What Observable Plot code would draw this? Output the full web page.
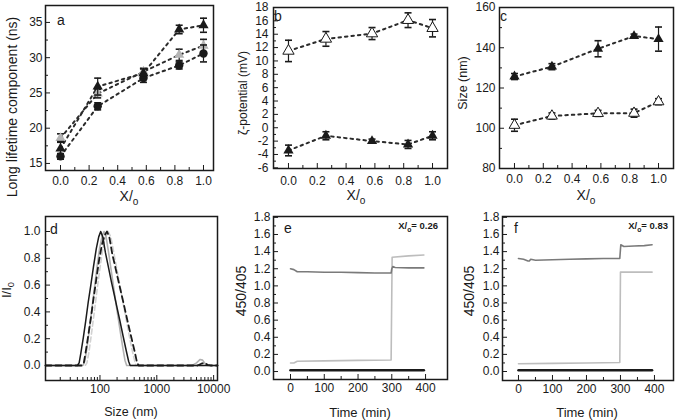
<!DOCTYPE html>
<html><head><meta charset="utf-8">
<script src="https://cdn.jsdelivr.net/npm/d3@7"></script>
<script src="https://cdn.jsdelivr.net/npm/@observablehq/plot@0.6"></script>
<style>
body{margin:0;background:#fff;}
#fig{position:relative;width:675px;height:420px;overflow:hidden;background:#fff;}
#fig svg{position:absolute;}
</style></head><body><div id="fig"></div>
<script>
const FONT = '"Liberation Sans", Arial, sans-serif';

// ---------- data ----------
const xFrac = [0, 0.26, 0.58, 0.83, 1.0];
const fracTicks = [0, 0.2, 0.4, 0.6, 0.8, 1.0];
const fracMinor = [0.1, 0.3, 0.5, 0.7, 0.9];

// panel a: long lifetime component (ns)
const aTriangle = [17.1, 25.9, 27.8, 34.0, 34.6];
const aTriangleErr = [1.0, 1.2, 0.6, 0.6, 1.0];
const aCircle = [16.0, 23.1, 27.1, 28.9, 30.6];
const aCircleErr = [0.4, 0.5, 0.6, 0.5, 1.2];
const aGray = [18.6, 24.9, 28.0, 30.4, 31.7];
const aGrayErr = [0.6, 0.6, 0.5, 0.8, 0.9];
const aYTicks = [15, 20, 25, 30, 35];
const aYMinor = [17.5, 22.5, 27.5, 32.5];

// panel b: zeta potential (mV)
const bOpen = [11.5, 13.3, 14.1, 16.1, 14.9];
const bOpenErr = [1.6, 1.1, 0.9, 1.1, 1.3];
const bFilled = [-3.4, -1.2, -2.0, -2.5, -1.2];
const bFilledErr = [0.8, 0.6, 0.3, 0.6, 0.6];
const bYTicks = [-6, -4, -2, 0, 2, 4, 6, 8, 10, 12, 14, 16, 18];
const bYMinor = [-5, -3, -1, 1, 3, 5, 7, 9, 11, 13, 15, 17];

// panel c: size (nm)
const cFilled = [125.7, 130.6, 139.5, 145.8, 144.3];
const cFilledErr = [1.5, 1.5, 4.0, 1.0, 6.0];
const cOpen = [101.5, 106.1, 107.4, 107.5, 113.2];
const cOpenErr = [3.0, 1.5, 1.5, 2.0, 1.5];
const cYTicks = [80, 100, 120, 140, 160];
const cYMinor = [90, 110, 130, 150];

// panel d: size distributions [size nm, I/I0]
const dBlackSolid = [[11,0],[40,0],[43,0.02],[46,0.09],[51,0.21],[56,0.33],[62,0.47],[69,0.6],[77,0.74],[86,0.87],[95,0.96],[103,1.0],[112,0.96],[125,0.84],[140,0.74],[158,0.63],[178,0.53],[200,0.43],[225,0.33],[255,0.22],[290,0.11],[320,0.03],[340,0],[11700,0]];
const dBlackDashed = [[11,0],[48,0],[52,0.02],[57,0.12],[63,0.24],[70,0.37],[77,0.5],[86,0.64],[96,0.78],[108,0.9],[120,0.97],[133,1.0],[146,0.96],[165,0.83],[185,0.74],[210,0.635],[235,0.545],[263,0.455],[295,0.36],[330,0.27],[370,0.18],[415,0.09],[450,0.02],[480,0],[5200,0],[6200,0.015],[7000,0.02],[7800,0.005],[8800,0],[11700,0]];
const dGraySolid = [[11,0],[50,0],[54,0.03],[59,0.13],[65,0.27],[72,0.42],[80,0.58],[89,0.74],[99,0.88],[110,0.97],[118,1.0],[127,0.97],[140,0.86],[155,0.73],[172,0.6],[190,0.47],[210,0.35],[232,0.23],[255,0.12],[275,0.04],[295,0],[4200,0],[5000,0.02],[5800,0.045],[6400,0.04],[7200,0.01],[8000,0],[11700,0]];
const dLightDashed = [[11,0],[55,0],[59,0.02],[64,0.1],[71,0.24],[79,0.39],[88,0.55],[98,0.7],[110,0.85],[123,0.95],[140,1.0],[155,0.96],[172,0.86],[192,0.75],[215,0.64],[240,0.53],[268,0.42],[300,0.31],[335,0.2],[375,0.1],[410,0.03],[430,0],[11700,0]];
const dXTicks = [100, 1000, 10000];
const dXMinor = [20,30,40,50,60,70,80,90,200,300,400,500,600,700,800,900,2000,3000,4000,5000,6000,7000,8000,9000];
const dYTicks = [0, 0.2, 0.4, 0.6, 0.8, 1.0];
const dYMinor = [0.1, 0.3, 0.5, 0.7, 0.9];

// panel e: 450/405 vs time (min), X/Xo = 0.26
const eDark = [[0,1.20],[10,1.19],[20,1.165],[50,1.165],[100,1.16],[150,1.16],[200,1.155],[250,1.15],[298,1.15],[300,1.2],[303,1.225],[310,1.215],[350,1.21],[395,1.21]];
const eLight = [[0,0.10],[10,0.10],[20,0.12],[100,0.125],[200,0.13],[298,0.135],[301,1.335],[350,1.35],[395,1.36]];
const eBlack = [[0,0.015],[395,0.015]];
// panel f: X/Xo = 0.83
const fDark = [[0,1.32],[15,1.31],[28,1.29],[32,1.29],[36,1.31],[50,1.30],[100,1.305],[150,1.31],[200,1.315],[250,1.32],[298,1.32],[301,1.48],[310,1.46],[340,1.465],[370,1.47],[393,1.48]];
const fLight = [[0,0.09],[100,0.095],[200,0.1],[298,0.105],[300,1.16],[393,1.16]];
const fBlack = [[0,0.015],[393,0.015]];
const tXTicks = [0, 100, 200, 300, 400];
const tXMinor = [50, 150, 250, 350];
const tYTicks = [0, 0.2, 0.4, 0.6, 0.8, 1.0, 1.2, 1.4, 1.6, 1.8];
const tYMinor = [0.1, 0.3, 0.5, 0.7, 0.9, 1.1, 1.3, 1.5, 1.7];

// ---------- helpers ----------
const fig = document.getElementById("fig");
const CAP = {draw(ctx, size) { const r = Math.sqrt(size / Math.PI); ctx.moveTo(-r, 0); ctx.lineTo(r, 0); }};
const rows = (ys, es) => xFrac.map((x, i) => ({x, y: ys[i], e: es[i]}));
const INK = "#1a1a1a";

function dotted(data) {
  return Plot.line(data, {x: "x", y: "y", stroke: "#2b2b2b", strokeWidth: 2, strokeDasharray: "2.5,4"});
}
function errBars(data) {
  return [
    Plot.ruleX(data, {x: "x", y1: d => d.y - d.e, y2: d => d.y + d.e, stroke: INK, strokeWidth: 1.2}),
    Plot.dot(data, {x: "x", y: d => d.y + d.e, symbol: CAP, r: 3.5, stroke: INK, strokeWidth: 1.6}),
    Plot.dot(data, {x: "x", y: d => d.y - d.e, symbol: CAP, r: 3.5, stroke: INK, strokeWidth: 1.6})
  ];
}
function tri(data, fill, stroke = "none", r = 3.8) {
  return Plot.dot(data, {x: "x", y: "y", symbol: "triangle", r, fill, stroke, strokeWidth: 1});
}
function addText(svg, {x, y, parts, size = 13, rotate = 0, anchor = "middle", weight = "normal", center = true}) {
  const t = d3.select(svg).append("text")
    .attr("transform", `translate(${x},${y}) rotate(${rotate})`)
    .attr("y", center ? 0.35 * size : 0)
    .attr("text-anchor", anchor).attr("font-size", size).attr("font-weight", weight)
    .attr("fill", INK).attr("font-family", FONT);
  let sub = false;
  for (const p of parts) {
    const ts = t.append("tspan").text(p.t);
    if (p.sub && !sub) { ts.attr("dy", 0.3 * size).attr("font-size", 0.72 * size); sub = true; }
    else if (p.sub) { ts.attr("font-size", 0.72 * size); }
    else if (sub) { ts.attr("dy", -0.3 * size); sub = false; }
  }
}

function panel(cfg) {
  const {left, top, width = 225, height = 210, m, x, y, marks, xt, xm, yt, ym, xfmt, yfmt, xpad, ypad, texts, overflow = "hidden"} = cfg;
  const fw = width - m[1] - m[3];
  const fh = height - m[0] - m[2];
  const svg = Plot.plot({
    width, height,
    marginTop: m[0], marginRight: m[1], marginBottom: m[2], marginLeft: m[3],
    x, y,
    style: {fontFamily: FONT, fontSize: "12px", background: "transparent", overflow, color: INK},
    marks: [
      ...marks,
      Plot.tickX(xm, {x: d => d, insetTop: fh - 3, stroke: INK, strokeWidth: 1}),
      Plot.tickX(xt, {x: d => d, insetTop: fh - 5, stroke: INK, strokeWidth: 1}),
      Plot.tickY(ym, {y: d => d, insetRight: fw - 3, stroke: INK, strokeWidth: 1}),
      Plot.tickY(yt, {y: d => d, insetRight: fw - 5, stroke: INK, strokeWidth: 1}),
      Plot.axisX({ticks: xt, tickSize: 0, tickPadding: xpad, tickFormat: xfmt, label: null, fill: INK}),
      Plot.axisY({ticks: yt, tickSize: 0, tickPadding: ypad, tickFormat: yfmt, label: null, fill: INK}),
      Plot.frame({stroke: INK, strokeWidth: 1.5})
    ]
  });
  svg.style.left = left + "px";
  svg.style.top = top + "px";
  for (const t of texts) addText(svg, t);
  fig.appendChild(svg);
}
const f1 = d3.format(".1f");
const str = d => String(d);
const Xo = [{t: "X/"}, {t: "o", sub: true}];

// ---------- panel a ----------
panel({
  left: 0, top: 0, m: [5, 12, 40, 45],
  x: {domain: [-0.105, 1.07]}, y: {domain: [14.0, 37.4]},
  xt: fracTicks, xm: fracMinor, yt: aYTicks, ym: aYMinor, xfmt: f1, yfmt: str, xpad: 6, ypad: 3,
  marks: [
    dotted(rows(aGray, aGrayErr)), dotted(rows(aCircle, aCircleErr)), dotted(rows(aTriangle, aTriangleErr)),
    ...errBars(rows(aGray, aGrayErr)), tri(rows(aGray, aGrayErr), "#b4b4b4"),
    ...errBars(rows(aCircle, aCircleErr)),
    Plot.dot(rows(aCircle, aCircleErr), {x: "x", y: "y", r: 4.2, fill: INK}),
    ...errBars(rows(aTriangle, aTriangleErr)), tri(rows(aTriangle, aTriangleErr), INK)
  ],
  texts: [
    {x: 12, y: 107, parts: [{t: "Long lifetime component (ns)"}], size: 14, rotate: -90},
    {x: 129, y: 196, parts: Xo, size: 14},
    {x: 57, y: 25, parts: [{t: "a"}], size: 14, anchor: "start", center: false}
  ]
});

// ---------- panel b ----------
panel({
  left: 225, top: 0, m: [7, 3, 42, 48],
  x: {domain: [-0.104, 1.104]}, y: {domain: [-6.1, 18]},
  xt: fracTicks, xm: fracMinor, yt: bYTicks, ym: bYMinor, xfmt: f1, yfmt: str, xpad: 8, ypad: 5,
  marks: [
    dotted(rows(bOpen, bOpenErr)), dotted(rows(bFilled, bFilledErr)),
    ...errBars(rows(bOpen, bOpenErr)), tri(rows(bOpen, bOpenErr), "white", INK, 4.2),
    ...errBars(rows(bFilled, bFilledErr)), tri(rows(bFilled, bFilledErr), INK)
  ],
  texts: [
    {x: 18, y: 93, parts: [{t: "ζ-potential (mV)"}], size: 12, rotate: -90},
    {x: 131, y: 195, parts: Xo, size: 14},
    {x: 49, y: 21, parts: [{t: "b"}], size: 14, anchor: "start", center: false}
  ]
});

// ---------- panel c ----------
panel({
  left: 450, top: 0, m: [7, 2, 42, 49],
  x: {domain: [-0.104, 1.104]}, y: {domain: [80, 160]},
  xt: fracTicks, xm: fracMinor, yt: cYTicks, ym: cYMinor, xfmt: f1, yfmt: str, xpad: 6, ypad: 4,
  marks: [
    dotted(rows(cFilled, cFilledErr)), dotted(rows(cOpen, cOpenErr)),
    ...errBars(rows(cOpen, cOpenErr)), tri(rows(cOpen, cOpenErr), "white", INK, 4.0),
    ...errBars(rows(cFilled, cFilledErr)), tri(rows(cFilled, cFilledErr), INK)
  ],
  texts: [
    {x: 13, y: 83, parts: [{t: "Size (nm)"}], size: 12.5, rotate: -90},
    {x: 136, y: 195, parts: Xo, size: 14},
    {x: 50, y: 21, parts: [{t: "c"}], size: 14, anchor: "start", center: false}
  ]
});

// ---------- panel d ----------
const pts = a => a.map(([s, v]) => ({s, v}));
panel({
  left: 0, top: 210, m: [6, 8, 40, 45], overflow: "visible",
  x: {type: "log", domain: [11, 11700]}, y: {domain: [-0.112, 1.112]},
  xt: dXTicks, xm: dXMinor, yt: dYTicks, ym: dYMinor, xfmt: str, yfmt: f1, xpad: 4, ypad: 5,
  marks: [
    Plot.line(pts(dLightDashed), {x: "s", y: "v", stroke: "#d2d2d2", strokeWidth: 1.6, strokeDasharray: "5,3"}),
    Plot.line(pts(dGraySolid), {x: "s", y: "v", stroke: "#b2b2b2", strokeWidth: 1.6}),
    Plot.line(pts(dBlackDashed), {x: "s", y: "v", stroke: INK, strokeWidth: 1.8, strokeDasharray: "6,4"}),
    Plot.line(pts(dBlackSolid), {x: "s", y: "v", stroke: INK, strokeWidth: 1.5})
  ],
  texts: [
    {x: 6, y: 80, parts: [{t: "I/I"}, {t: "0", sub: true}], size: 13, rotate: -90},
    {x: 131, y: 202, parts: [{t: "Size (nm)"}], size: 12.5},
    {x: 50, y: 24, parts: [{t: "d"}], size: 14, anchor: "start", center: false}
  ]
});

// ---------- panels e, f ----------
const tp = a => a.map(([t, v]) => ({t, v}));
function timePanel(left, m, xdom, ydom, dark, light, black, letter, label, lx, ylx, xlx) {
  panel({
    left, top: 210, m,
    x: {domain: xdom}, y: {domain: ydom},
    xt: tXTicks, xm: tXMinor, yt: tYTicks, ym: tYMinor, xfmt: str, yfmt: f1, xpad: 4, ypad: 3,
    marks: [
      Plot.line(tp(black), {x: "t", y: "v", stroke: INK, strokeWidth: 2.5}),
      Plot.line(tp(light), {x: "t", y: "v", stroke: "#bdbdbd", strokeWidth: 1.6}),
      Plot.line(tp(dark), {x: "t", y: "v", stroke: "#7a7a7a", strokeWidth: 1.6})
    ],
    texts: [
      {x: ylx, y: 81, parts: [{t: "450/405"}], size: 14, rotate: -90},
      {x: xlx, y: 202, parts: [{t: "Time (min)"}], size: 13},
      {x: letter[1], y: 23, parts: [{t: letter[0]}], size: 14, anchor: "start", center: false},
      {x: lx, y: 19, parts: [{t: "X/"}, {t: "o", sub: true}, {t: "= " + label}], size: 9.5, weight: "bold", anchor: "end", center: false}
    ]
  });
}
timePanel(225, [6, 3, 41, 48], [-50.4, 465], [-0.093, 1.81], eDark, eLight, eBlack, ["e", 59], "0.26", 213, 16, 135);
timePanel(450, [6, 2, 40, 52], [-47, 456], [-0.105, 1.81], fDark, fLight, fBlack, ["f", 64], "0.83", 218, 19, 137);
</script></body></html>
